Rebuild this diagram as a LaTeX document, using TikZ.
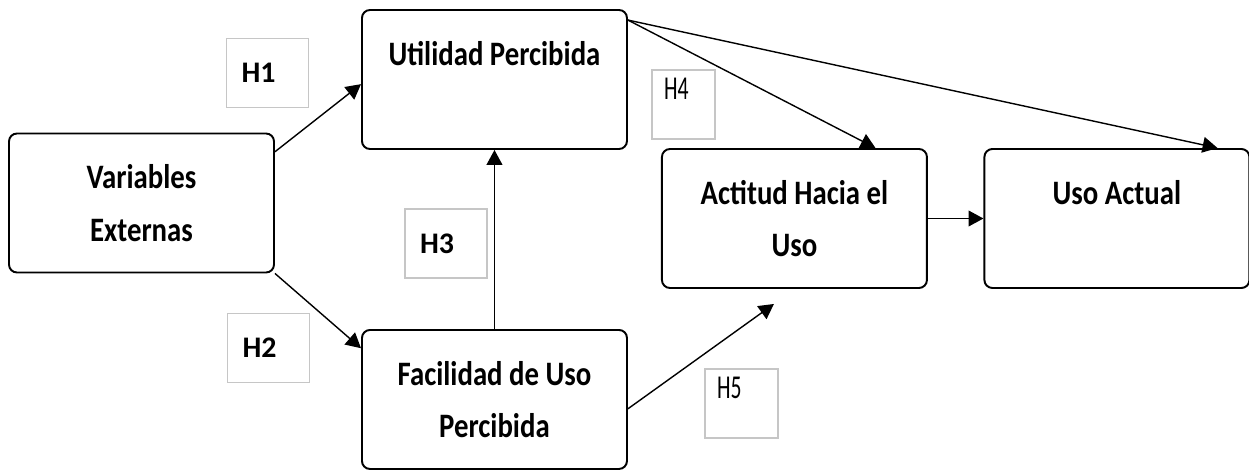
\documentclass[tikz,border=0pt]{standalone}
\usepackage{fontspec}
\setmainfont{Carlito}
\newfontfamily\bloquefont{Carlito}[FakeStretch=0.84]
\newfontfamily\hipfont{Carlito}[FakeStretch=0.65]
\usetikzlibrary{arrows.meta,calc}
\tikzstyle{constructo}=[draw, line width=1.1pt, rounded corners=0.16cm,
  minimum width=5.3cm, minimum height=2.78cm, align=center,
  font=\bloquefont\bfseries\fontsize{19.5}{30}\selectfont]
\tikzstyle{hip}=[draw=gray!45, line width=0.6pt, inner xsep=0.3cm,
  text width=1.04cm, minimum height=1.38cm, align=left,
  font=\bfseries\fontsize{17}{20}\selectfont]
\tikzstyle{hipfina}=[hip, inner xsep=0.24cm, text width=0.78cm,
  font=\hipfont\fontsize{19}{18}\selectfont]
\tikzstyle{flecha}=[->, line width=0.8pt]
\newcommand{\constructo}[2]{node (v#1) [constructo] {#2}}

\begin{document}
\begin{tikzpicture}[>={Triangle[length=8.5pt,width=9pt]}]
  \useasboundingbox (0,0) rectangle (24.98,9.38);
  \path (2.83,5.32) \constructo{1}{Variables\\Externas};
  \path (v1.east)+(4.39,2.47) \constructo{2}{Utilidad Percibida\\\mbox{}};
  \path (v2.south)+(0,-4.99) \constructo{3}{Facilidad de Uso\\Percibida};
  \path (v2.east)+(3.33,-2.78) \constructo{4}{Actitud Hacia el\\Uso};
  \path (v4.east)+(3.78,0) \constructo{5}{Uso Actual\\\mbox{}};

  % hypothesis labels
  \node (h1) [hip] at (5.35,7.92) {H1};
  \node (h2) [hip] at (5.37,2.42) {H2};
  \node (h3) [hip] at (8.92,4.51) {H3};
  \node (h4) [hipfina] at (13.67,7.29) {H4\\\mbox{}};
  \node (h5) [hipfina, text width=0.98cm] at (14.83,1.31) {H5\\\mbox{}};
  \coordinate (p5) at ($(v4.south)+(-0.41,-0.3)$);

  \draw [flecha] (v1.21) -- (v2.182);
  \draw [flecha] (v1.south east) -- (v3.159);
  \draw [flecha] (v3.north) -- (v2.south);
  \draw [flecha] (v2.24) -- (v4.41);
  \draw [flecha] (v2.24) -- (v5.35);
  \draw [flecha] (v3.-4) -- (p5);
  \draw [flecha] (v4.east) -- (v5.west);
\end{tikzpicture}
\end{document}
